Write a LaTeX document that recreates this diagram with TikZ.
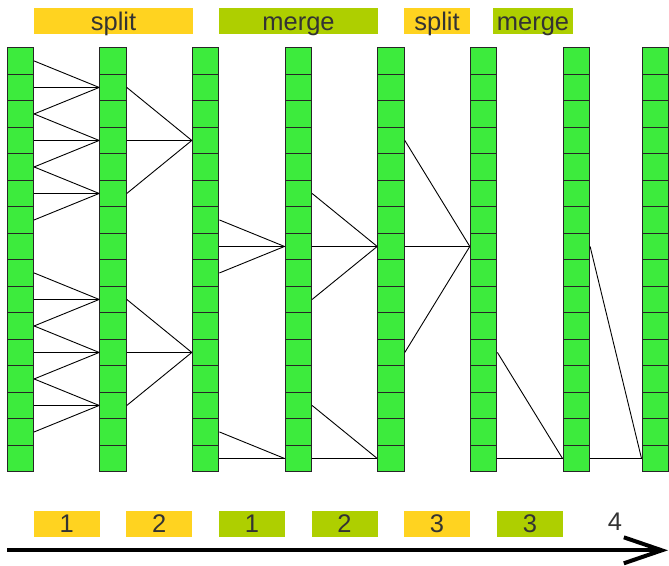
\documentclass[tikz,border=0pt]{standalone}
\usepackage{fontspec}
\setmainfont{Liberation Sans}
\usetikzlibrary{arrows.meta}
\definecolor{cellgreen}{HTML}{3DEB3D}
\definecolor{splitgold}{HTML}{FFD320}
\definecolor{mergegreen}{HTML}{AECF00}
\definecolor{labelgray}{HTML}{333333}

\begin{document}
\begin{tikzpicture}[x=1pt,y=-1pt,
        cell/.style={shape=rectangle,draw=black!85,line width=1.1pt,fill=cellgreen,minimum width=26.5pt,minimum height=26.5pt,inner sep=0pt},
        tag/.style={shape=rectangle,minimum height=26pt,inner sep=0pt,text=labelgray,text height=17.5pt,text depth=0pt,font=\fontsize{25.5}{25}\selectfont},
        link/.style={draw=black,line width=0.9pt}]
                \useasboundingbox (0,0) rectangle (669,565);

                % stage labels on top
                \node[tag,fill=splitgold,minimum width=159pt] (S1) at (113.5,21.3) {split};
                \node[tag,fill=mergegreen,minimum width=159pt] (M1) at (298.5,21.3) {merge};
                \node[tag,fill=splitgold,minimum width=66pt] (S2) at (437,21.3) {split};
                \node[tag,fill=mergegreen,minimum width=80pt] (M2) at (533,21.3) {merge};

                % columns of cells
                \foreach \c/\x in {1/20.3,2/113,3/205.6,4/298.3,5/391,6/483.6,7/576.3,8/655.3}
                    \foreach \r in {1,...,16}
                        \node[cell] (c\c-\r) at (\x,{34.45+26.5*\r}) {};

                % split 1
                \foreach \s/\t in {1/2,2/2,3/2,3/4,4/4,5/4,5/6,6/6,7/6,9/10,10/10,11/10,11/12,12/12,13/12,13/14,14/14,15/14}
                    \draw[link] (c1-\s.east) -- (c2-\t.west);
                % split 2
                \foreach \s/\t in {2/4,4/4,6/4,10/12,12/12,14/12}
                    \draw[link] (c2-\s.east) -- (c3-\t.west);
                % merge 1
                \foreach \s/\t in {7/8,8/8,9/8,15/16,16/16}
                    \draw[link] (c3-\s.east) -- (c4-\t.west);
                % merge 2
                \foreach \s/\t in {6/8,8/8,10/8,14/16,16/16}
                    \draw[link] (c4-\s.east) -- (c5-\t.west);
                % split 3
                \foreach \s/\t in {4/8,8/8,12/8}
                    \draw[link] (c5-\s.east) -- (c6-\t.west);
                % merge 3
                \foreach \s/\t in {12/16,16/16}
                    \draw[link] (c6-\s.east) -- (c7-\t.west);
                % step 4
                \foreach \s/\t in {8/16,16/16}
                    \draw[link] (c7-\s.east) -- (c8-\t.west);

                % step numbers
                \node[tag,fill=splitgold,minimum width=66pt] (N1) at (66.8,524) {1};
                \node[tag,fill=splitgold,minimum width=66pt] (N2) at (159.3,524) {2};
                \node[tag,fill=mergegreen,minimum width=66pt] (N3) at (252,524) {1};
                \node[tag,fill=mergegreen,minimum width=66pt] (N4) at (344.5,524) {2};
                \node[tag,fill=splitgold,minimum width=66pt] (N5) at (437,524) {3};
                \node[tag,fill=mergegreen,minimum width=66pt] (N6) at (530,524) {3};
                \node[tag] (N7) at (615,522) {4};

                % time axis
                \coordinate (T0) at (7,550.3);
                \coordinate (T1) at (668,550.3);
                \draw[line width=4pt,-{Straight Barb[length=38pt,width=26pt]}] (T0) -- (T1);
            \end{tikzpicture}
\end{document}
